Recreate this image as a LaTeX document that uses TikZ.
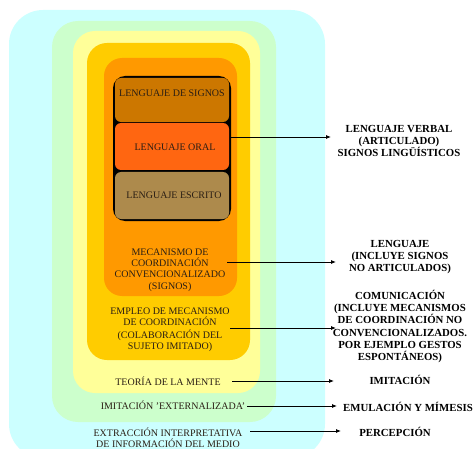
\documentclass[tikz,border=0pt]{standalone}
\usepackage{fontspec}
\setmainfont{Liberation Serif}
\usetikzlibrary{arrows.meta}
\definecolor{cCyan}{HTML}{CCFFFF}
\definecolor{cGreen}{HTML}{CCFFCC}
\definecolor{cPale}{HTML}{FFFF99}
\definecolor{cGold}{HTML}{FFCC00}
\definecolor{cOrange}{HTML}{FF9900}
\definecolor{cSignos}{HTML}{CC7700}
\definecolor{cOral}{HTML}{FF6611}
\definecolor{cEscrito}{HTML}{AD8A4C}
\definecolor{cInk}{HTML}{2A1E14}
\tikzset{
    inlabel/.style ={font=\fontsize{10}{11.3}\selectfont, text=cInk, align=center, inner sep=1pt},
    outlabel/.style={font=\fontsize{10.8}{12.3}\selectfont\bfseries, align=center, inner sep=1pt},
    stripe/.style  ={rectangle, rounded corners=6pt, minimum width=114pt, inner sep=0pt},
    arr/.style     ={-{Latex[length=5pt,width=4pt]}, line width=0.8pt},
}

\begin{document}
\begin{tikzpicture}[x=1pt, y=-1pt]
    \useasboundingbox (0,0) rectangle (476,449);
    \clip (0,0) rectangle (476,449);
    % nested levels
    \fill[cCyan, rounded corners=34pt]   (9,10)   rectangle (325,458);
    \fill[cGreen, rounded corners=26pt]  (52,21)  rectangle (276,422);
    \fill[cPale, rounded corners=22pt]   (73,31)  rectangle (260,393);
    \fill[cGold, rounded corners=20pt]   (87,43)  rectangle (250,360);
    \fill[cOrange, rounded corners=18pt] (104,58) rectangle (237,296);
    \fill[black, rounded corners=12pt]   (113,76) rectangle (231,221);

    % language stripes
    \node[stripe, fill=cSignos, minimum height=44pt]  (signos)  at (172,100) {};
    \node[stripe, fill=cOral, minimum height=47pt]    (oral)    at (172,146.5) {};
    \node[stripe, fill=cEscrito, minimum height=47pt] (escrito) at (172,195.5) {};
    \node[inlabel] (tSignos)  at (172,93)  {LENGUAJE DE SIGNOS};
    \node[inlabel] (tOral)    at (175,147) {LENGUAJE ORAL};
    \node[inlabel] (tEscrito) at (174,195) {LENGUAJE ESCRITO};

    % level texts
    \node[inlabel] (mecanismo) at (170,270) {MECANISMO DE\\COORDINACIÓN\\CONVENCIONALIZADO\\(SIGNOS)};
    \node[inlabel] (empleo)    at (170,316.5) {EMPLEO DE MECANISMO\\DE COORDINACIÓN};
    \node[inlabel] (colab)     at (170,341) {(COLABORACIÓN DEL\\SUJETO IMITADO)};
    \node[inlabel] (teoria)    at (168,381) {TEORÍA DE LA MENTE};
    \node[inlabel] (externa)   at (173,405) {IMITACIÓN 'EXTERNALIZADA'};
    \node[inlabel] (extraccion) at (168,437.5) {EXTRACCIÓN INTERPRETATIVA\\DE INFORMACIÓN DEL MEDIO};

    % right column
    \node[outlabel] (verbal)      at (399,141) {LENGUAJE VERBAL\\(ARTICULADO)\\SIGNOS LINGÜÍSTICOS};
    \node[outlabel] (lenguaje)    at (400,257) {LENGUAJE\\(INCLUYE SIGNOS\\NO ARTICULADOS)};
    \node[outlabel] (comunicacion) at (400,326.5) {COMUNICACIÓN\\(INCLUYE MECANISMOS\\DE COORDINACIÓN NO\\CONVENCIONALIZADOS.\\POR EJEMPLO GESTOS\\ESPONTÁNEOS)};
    \node[outlabel] (imitacion)   at (400,380) {IMITACIÓN};
    \node[outlabel] (emulacion)   at (408,407) {EMULACIÓN Y MÍMESIS};
    \node[outlabel] (percepcion)  at (395,432) {PERCEPCIÓN};

    % arrow ends
    \coordinate (oralOut) at (231,137);
    \coordinate (verbalIn) at (331,137);
    \coordinate (mecOut) at (227,262);
    \coordinate (lengIn) at (336,262);
    \coordinate (empOut) at (230,328);
    \coordinate (comIn) at (336,328);
    \coordinate (teoOut) at (232,381);
    \coordinate (imiIn) at (334,381);
    \coordinate (extOut) at (247,406);
    \coordinate (emuIn) at (337,406);
    \coordinate (infOut) at (250,431);
    \coordinate (perIn) at (341,431);

    \draw[arr] (oralOut) -- (verbalIn);
    \draw[arr] (mecOut) -- (lengIn);
    \draw[arr] (empOut) -- (comIn);
    \draw[arr] (teoOut) -- (imiIn);
    \draw[arr] (extOut) -- (emuIn);
    \draw[arr] (infOut) -- (perIn);
\end{tikzpicture}
\end{document}
